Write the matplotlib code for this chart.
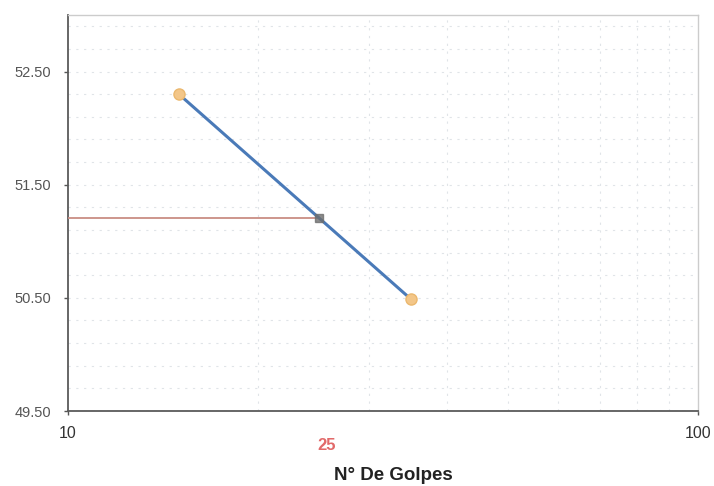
import numpy as np
import matplotlib.pyplot as plt
from matplotlib.ticker import FixedLocator, FuncFormatter, NullFormatter
import matplotlib.transforms as mtransforms

# Ensayo de límite líquido (Casagrande)
golpes = [15, 35]
humedad = [52.30, 50.49]
golpes_ll = 25
humedad_ll = 51.21

y_ticks = [49.50, 50.50, 51.50, 52.50]

plt.rcParams['font.family'] = ['Liberation Sans', 'DejaVu Sans']

fig = plt.figure(figsize=(7.14, 4.86), dpi=100)
ax = fig.add_axes([0.0952, 0.1543, 0.8824, 0.8148])

ax.set_xscale('log')
ax.set_xlim(10, 100)
ax.set_ylim(49.5, 53.0)

# grid on the log minor decades and every 0.2 in y
ax.xaxis.set_minor_locator(FixedLocator([20, 30, 40, 50, 60, 70, 80, 90]))
ax.xaxis.set_minor_formatter(NullFormatter())
ax.yaxis.set_major_locator(FixedLocator(y_ticks))
ax.yaxis.set_minor_locator(FixedLocator(np.arange(49.7, 53.0, 0.2)))
ax.xaxis.set_major_locator(FixedLocator([10, 100]))
ax.xaxis.set_major_formatter(FuncFormatter(lambda v, p: f'{v:g}'))
ax.yaxis.set_major_formatter(FuncFormatter(lambda v, p: f'{v:.2f}'))
ax.grid(which='minor', color='#e0e4e8', linestyle=(0, (2, 5)), linewidth=0.8)
ax.grid(which='major', axis='y', color='#e0e4e8', linestyle=(0, (2, 5)), linewidth=0.8)
ax.set_axisbelow(True)

ax.tick_params(which='minor', length=0)
ax.tick_params(axis='y', which='major', length=3, width=1, color='#555555',
               labelsize=10.5, labelcolor='#555555', pad=9)
ax.tick_params(axis='x', which='major', length=3, width=1, color='#555555',
               labelsize=11.5, labelcolor='#333333', pad=8)

for side in ['left', 'bottom']:
    ax.spines[side].set_color('#5a5a5a')
    ax.spines[side].set_linewidth(1.3)
for side in ['top', 'right']:
    ax.spines[side].set_color('#cccccc')
    ax.spines[side].set_linewidth(1.0)

# horizontal reference from the axis to the 25-blow value
ax.plot([10, golpes_ll], [humedad_ll, humedad_ll], color='#c98d84', linewidth=1.3, zorder=3)

# flow curve
ax.plot(golpes, humedad, color='#4a7ab8', linewidth=2.2, zorder=4)
ax.plot(golpes, humedad, linestyle='none', marker='o', markersize=8,
        markerfacecolor='#f3c688', markeredgecolor='#ebb86e', zorder=5)
ax.plot([golpes_ll], [humedad_ll], linestyle='none', marker='s', markersize=6,
        markerfacecolor='#6e6e6e', markeredgecolor='#6e6e6e', alpha=0.8, zorder=5)

trans = mtransforms.blended_transform_factory(ax.transData, ax.transAxes)
ax.annotate(f'{golpes_ll}', xy=(golpes_ll, 0), xycoords=trans,
            xytext=(6, -25), textcoords='offset points',
            ha='center', va='center', color='#e26a6a', fontsize=12, fontweight='bold')

fig.text(393 / 714, 1 - 475 / 486, 'N° De Golpes', ha='center', va='center',
         fontsize=13.5, fontweight='bold', color='#222222')

fig.savefig('out.png', dpi=100)
